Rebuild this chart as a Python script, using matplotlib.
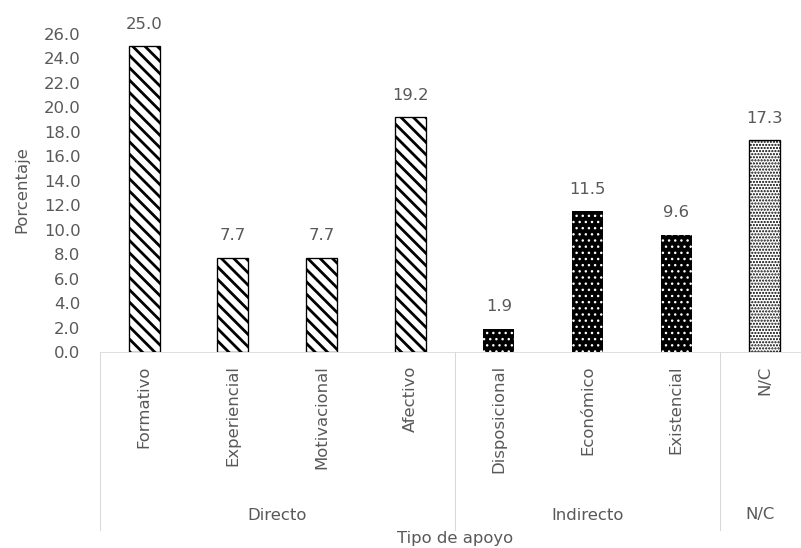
import matplotlib
matplotlib.use("Agg")
import matplotlib.pyplot as plt
import matplotlib.transforms as mtransforms
import numpy as np

# datos
categorias = ['Formativo', 'Experiencial', 'Motivacional', 'Afectivo',
              'Disposicional', 'Económico', 'Existencial', 'N/C']
valores = [25.0, 7.7, 7.7, 19.2, 1.9, 11.5, 9.6, 17.3]
grupos = ['Directo', 'Indirecto', 'N/C']
grupo_de = [0, 0, 0, 0, 1, 1, 1, 2]
yticks = np.arange(0, 27, 2)

DPI = 74
gris = '#595959'
plt.rcParams['font.family'] = ['DejaVu Sans']
plt.rcParams['font.size'] = 16

fig = plt.figure(figsize=(801 / DPI, 548 / DPI), dpi=DPI)
ax = fig.add_axes([100 / 801, 1 - 352 / 548, 709 / 801, 318 / 548])

x = np.arange(len(categorias))
ancho = 0.35


def barra(i, **kw):
    hlw = kw.pop('hlw', 1.0)
    with plt.rc_context({'hatch.linewidth': hlw}):
        b = ax.bar(x[i], valores[i], ancho, zorder=2, **kw)[0]
    if hasattr(b, 'set_hatch_linewidth'):
        b.set_hatch_linewidth(hlw)
    return b


for i in range(len(categorias)):
    g = grupo_de[i]
    if g == 0:
        barra(i, color='white', edgecolor='black', linewidth=1.3,
              hatch='\\\\', hlw=2.7)
    elif g == 1:
        barra(i, color='black', edgecolor='white', linewidth=0,
              hatch='..', hlw=1.2)
    else:
        barra(i, color='white', edgecolor='black', linewidth=1.3,
              hatch='....', hlw=1.4)
    ax.annotate(f'{valores[i]:.1f}', (x[i], valores[i]), xytext=(0, 14),
                textcoords='offset points', ha='center', va='bottom', color=gris)

ax.set_xlim(-0.5, len(categorias) - 0.5)
ax.set_ylim(0, 26)
ax.set_yticks(yticks)
ax.set_yticklabels([f'{v:.1f}' for v in yticks], color=gris)
ax.tick_params(axis='y', length=0, pad=19)
ax.set_xticks(x)
ax.set_xticklabels(categorias, rotation=90, color=gris)
ax.tick_params(axis='x', length=0, pad=13)
for s in ['top', 'right', 'left']:
    ax.spines[s].set_visible(False)
ax.spines['bottom'].set_color('#d9d9d9')

# segundo nivel del eje x
trans = mtransforms.blended_transform_factory(ax.transData, fig.transFigure)
y_eje = 1 - 352 / 548
y_fin = 1 - 530 / 548
limites = [-0.5, 3.5, 6.5, 7.5]
for b in limites:
    ax.plot([b, b], [y_eje, y_fin], transform=trans, color='#d9d9d9',
            lw=1, clip_on=False)
for k, nombre in enumerate(grupos):
    cx = np.mean([xi for xi, g in zip(x, grupo_de) if g == k])
    if k == 2:
        cx -= 0.05
    ax.text(cx, 1 - 515 / 548, nombre, transform=trans, ha='center',
            va='center', color=gris)

fig.text(455 / 801, 1 - 538 / 548, 'Tipo de apoyo', ha='center', va='center',
         color=gris)
fig.text(22 / 801, 1 - 190 / 548, 'Porcentaje', ha='center', va='center',
         rotation=90, color=gris)

fig.savefig('out.png', dpi=DPI)
